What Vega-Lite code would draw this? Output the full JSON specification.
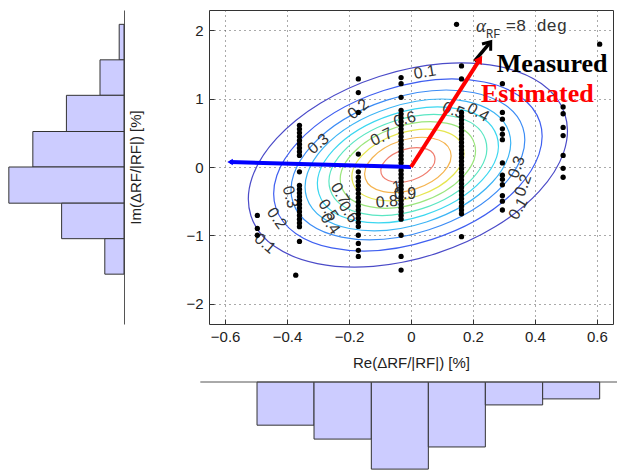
{
  "$schema": "https://vega.github.io/schema/vega-lite/v6.json",
  "padding": {"left": 5, "top": 9, "right": 0, "bottom": 0},
  "background": "white",
  "config": {
    "view": {"stroke": null},
    "font": "Liberation Sans",
    "axis": {"labelFont": "Liberation Sans", "titleFont": "Liberation Sans"}
  },
  "bounds": "flush",
  "columns": 2,
  "spacing": {"row": 58, "column": 85},
  "datasets": {
    "yhist": [
      {"y0": 1.57, "y1": 2.09, "count": 1},
      {"y0": 1.05, "y1": 1.57, "count": 5},
      {"y0": 0.52, "y1": 1.05, "count": 12},
      {"y0": 0.0, "y1": 0.52, "count": 19},
      {"y0": -0.53, "y1": 0.0, "count": 24},
      {"y0": -1.05, "y1": -0.53, "count": 13},
      {"y0": -1.57, "y1": -1.05, "count": 4}
    ],
    "xhist": [
      {"x0": -0.497, "x1": -0.313, "count": 11.5},
      {"x0": -0.313, "x1": -0.128, "count": 15.2},
      {"x0": -0.128, "x1": 0.056, "count": 23.2},
      {"x0": 0.056, "x1": 0.240, "count": 17.3},
      {"x0": 0.240, "x1": 0.425, "count": 6.1},
      {"x0": 0.425, "x1": 0.609, "count": 4.5}
    ],
    "contours": [
      {"level": 0.1, "x": -0.01, "y": 0.03},
      {"level": 0.2, "x": -0.01, "y": 0.03},
      {"level": 0.3, "x": -0.01, "y": 0.03},
      {"level": 0.4, "x": -0.01, "y": 0.03},
      {"level": 0.5, "x": -0.01, "y": 0.03},
      {"level": 0.6, "x": -0.01, "y": 0.03},
      {"level": 0.7, "x": -0.01, "y": 0.03},
      {"level": 0.8, "x": -0.01, "y": 0.03},
      {"level": 0.9, "x": -0.01, "y": 0.03},
      {"level": 1.0, "x": -0.01, "y": 0.03}
    ],
    "clabels": [
      {"x": 0.045, "y": 1.39, "label": "0.1", "rot": -10},
      {"x": -0.170, "y": 0.85, "label": "0.2", "rot": -40},
      {"x": -0.299, "y": 0.34, "label": "0.3", "rot": -40},
      {"x": -0.095, "y": 0.44, "label": "0.7", "rot": -25},
      {"x": -0.02, "y": 0.70, "label": "0.6", "rot": -15},
      {"x": 0.137, "y": 0.83, "label": "0.5", "rot": 20},
      {"x": 0.217, "y": 0.80, "label": "0.4", "rot": 30},
      {"x": 0.341, "y": 0.0, "label": "0.3", "rot": -70},
      {"x": 0.362, "y": -0.27, "label": "0.2", "rot": -70},
      {"x": 0.346, "y": -0.61, "label": "0.1", "rot": -60},
      {"x": -0.39, "y": -0.44, "label": "0.3", "rot": 75},
      {"x": -0.433, "y": -0.75, "label": "0.2", "rot": 55},
      {"x": -0.471, "y": -1.12, "label": "0.1", "rot": 40},
      {"x": -0.229, "y": -0.39, "label": "0.7", "rot": 60},
      {"x": -0.202, "y": -0.66, "label": "0.6", "rot": 55},
      {"x": -0.267, "y": -0.63, "label": "0.5", "rot": 55},
      {"x": -0.261, "y": -0.83, "label": "0.4", "rot": 55},
      {"x": -0.078, "y": -0.51, "label": "0.8", "rot": -5},
      {"x": -0.019, "y": -0.39, "label": "0.9", "rot": 0},
      {"x": -0.046, "y": -0.29, "label": "1", "rot": -10}
    ],
    "pts": [
      {"x": -0.496, "y": -0.71}, {"x": -0.496, "y": -0.90}, {"x": -0.496, "y": -1.00},
      {"x": -0.36, "y": 0.61}, {"x": -0.36, "y": 0.555}, {"x": -0.36, "y": 0.50}, {"x": -0.36, "y": 0.445}, {"x": -0.36, "y": 0.39}, {"x": -0.36, "y": 0.335}, {"x": -0.36, "y": 0.28}, {"x": -0.36, "y": 0.225}, {"x": -0.36, "y": 0.17}, {"x": -0.36, "y": -0.07}, {"x": -0.36, "y": -0.27}, {"x": -0.36, "y": -0.325}, {"x": -0.36, "y": -0.38}, {"x": -0.36, "y": -0.435}, {"x": -0.36, "y": -0.49}, {"x": -0.36, "y": -0.545}, {"x": -0.36, "y": -0.60}, {"x": -0.36, "y": -0.655}, {"x": -0.36, "y": -0.71}, {"x": -0.36, "y": -0.765}, {"x": -0.36, "y": -0.82}, {"x": -0.36, "y": -0.875}, {"x": -0.36, "y": -1.09}, {"x": -0.372, "y": -1.585},
      {"x": -0.17, "y": 1.29}, {"x": -0.17, "y": 1.09}, {"x": -0.17, "y": 0.80}, {"x": -0.17, "y": 0.19}, {"x": -0.17, "y": -0.07}, {"x": -0.17, "y": -0.15}, {"x": -0.17, "y": -0.21}, {"x": -0.17, "y": -0.27}, {"x": -0.17, "y": -0.33}, {"x": -0.17, "y": -0.39}, {"x": -0.17, "y": -0.45}, {"x": -0.17, "y": -0.51}, {"x": -0.17, "y": -0.57}, {"x": -0.17, "y": -0.63}, {"x": -0.17, "y": -0.69}, {"x": -0.17, "y": -0.75}, {"x": -0.17, "y": -0.81}, {"x": -0.17, "y": -0.87}, {"x": -0.17, "y": -1.0}, {"x": -0.17, "y": -1.12}, {"x": -0.17, "y": -1.22}, {"x": -0.17, "y": -1.31},
      {"x": -0.032, "y": 1.31}, {"x": -0.032, "y": 1.22}, {"x": -0.032, "y": 1.02}, {"x": -0.032, "y": 0.83}, {"x": -0.032, "y": 0.775}, {"x": -0.032, "y": 0.72}, {"x": -0.032, "y": 0.665}, {"x": -0.032, "y": 0.61}, {"x": -0.032, "y": 0.555}, {"x": -0.032, "y": 0.50}, {"x": -0.032, "y": 0.445}, {"x": -0.032, "y": 0.39}, {"x": -0.032, "y": 0.335}, {"x": -0.032, "y": 0.28}, {"x": -0.032, "y": 0.225}, {"x": -0.032, "y": 0.17}, {"x": -0.032, "y": 0.115}, {"x": -0.032, "y": 0.06}, {"x": -0.032, "y": 0.005}, {"x": -0.032, "y": -0.05}, {"x": -0.032, "y": -0.105}, {"x": -0.032, "y": -0.16}, {"x": -0.032, "y": -0.215}, {"x": -0.032, "y": -0.27}, {"x": -0.032, "y": -0.325}, {"x": -0.032, "y": -0.38}, {"x": -0.032, "y": -0.435}, {"x": -0.032, "y": -0.49}, {"x": -0.032, "y": -0.545}, {"x": -0.032, "y": -0.60}, {"x": -0.032, "y": -0.655}, {"x": -0.032, "y": -0.71}, {"x": -0.032, "y": -0.765}, {"x": -0.032, "y": -1.0}, {"x": -0.032, "y": -1.31}, {"x": -0.032, "y": -1.51},
      {"x": 0.163, "y": 1.48}, {"x": 0.163, "y": 1.29}, {"x": 0.163, "y": 0.80}, {"x": 0.163, "y": 0.745}, {"x": 0.163, "y": 0.69}, {"x": 0.163, "y": 0.635}, {"x": 0.163, "y": 0.58}, {"x": 0.163, "y": 0.525}, {"x": 0.163, "y": 0.47}, {"x": 0.163, "y": 0.415}, {"x": 0.163, "y": 0.36}, {"x": 0.163, "y": 0.305}, {"x": 0.163, "y": 0.25}, {"x": 0.163, "y": 0.195}, {"x": 0.163, "y": 0.14}, {"x": 0.163, "y": 0.085}, {"x": 0.163, "y": 0.03}, {"x": 0.163, "y": -0.025}, {"x": 0.163, "y": -0.08}, {"x": 0.163, "y": -0.135}, {"x": 0.163, "y": -0.19}, {"x": 0.163, "y": -0.245}, {"x": 0.163, "y": -0.30}, {"x": 0.163, "y": -0.355}, {"x": 0.163, "y": -0.41}, {"x": 0.163, "y": -0.465}, {"x": 0.163, "y": -0.52}, {"x": 0.163, "y": -0.575}, {"x": 0.163, "y": -0.63}, {"x": 0.163, "y": -0.685}, {"x": 0.163, "y": -1.02},
      {"x": 0.295, "y": 1.22}, {"x": 0.295, "y": 0.80}, {"x": 0.295, "y": 0.70}, {"x": 0.295, "y": 0.56}, {"x": 0.295, "y": 0.48}, {"x": 0.295, "y": 0.40}, {"x": 0.295, "y": 0.06}, {"x": 0.295, "y": -0.12}, {"x": 0.295, "y": -0.18}, {"x": 0.295, "y": -0.26}, {"x": 0.295, "y": -0.42}, {"x": 0.295, "y": -0.50}, {"x": 0.295, "y": -0.63},
      {"x": 0.491, "y": 0.88}, {"x": 0.491, "y": 0.78}, {"x": 0.491, "y": 0.58}, {"x": 0.491, "y": 0.46}, {"x": 0.491, "y": 0.17}, {"x": 0.491, "y": -0.02}, {"x": 0.491, "y": -0.15},
      {"x": 0.147, "y": 2.09}, {"x": 0.609, "y": 1.80}
    ],
    "arrows": [
      {"kind": "blue", "x": 0, "y": 0, "x2": -0.584, "y2": 0.073},
      {"kind": "meas", "x": 0.205, "y": 1.55, "x2": 0.253, "y2": 1.81},
      {"kind": "est", "x": 0, "y": 0, "x2": 0.2226, "y2": 1.581}
    ],
    "texts": [
      {"kind": "alpha", "x": 0.21, "y": 2.07, "t": "α"},
      {"kind": "sub", "x": 0.242, "y": 1.95, "t": "RF"},
      {"kind": "deg", "x": 0.306, "y": 2.07, "t": "=8 deg"},
      {"kind": "meas", "x": 0.277, "y": 1.51, "t": "Measured"},
      {"kind": "est", "x": 0.226, "y": 1.07, "t": "Estimated"}
    ]
  },
  "concat": [
    {
      "width": 119,
      "height": 314,
      "data": {"name": "yhist"},
      "mark": {"type": "bar", "fill": "#ccccff", "stroke": "#333333", "strokeWidth": 1, "opacity": 1},
      "encoding": {
        "y": {"field": "y0", "type": "quantitative", "scale": {"domain": [-2.3, 2.3], "nice": false, "zero": false},
              "axis": {"orient": "right", "labels": false, "ticks": false, "title": null, "grid": false, "domainColor": "#555555"}},
        "y2": {"field": "y1"},
        "x": {"field": "count", "type": "quantitative", "scale": {"domain": [0, 24.8], "reverse": true, "nice": false}, "axis": null},
        "x2": {"datum": 0}
      }
    },
    {
      "width": 404,
      "height": 314,
      "view": {"stroke": "#333333", "strokeWidth": 1},
      "layer": [
        {
          "data": {"name": "contours"},
          "mark": {"type": "point", "filled": false, "opacity": 1, "strokeWidth": 1.2, "angle": -18,
                   "shape": "M1,0 C1,0.3113 0.5523,0.5636 0,0.5636 C-0.5523,0.5636 -1,0.3113 -1,0 C-1,-0.3113 -0.5523,-0.5636 0,-0.5636 C0.5523,-0.5636 1,-0.3113 1,0 Z"},
          "encoding": {
            "x": {"field": "x", "type": "quantitative", "scale": {"domain": [-0.652, 0.652], "nice": false, "zero": false},
                  "axis": {"values": [-0.6, -0.4, -0.2, 0, 0.2, 0.4, 0.6], "format": "~g", "title": "Re(ΔRF/|RF|) [%]",
                           "grid": true, "gridDash": [1, 4], "gridColor": "#444444", "gridOpacity": 0.9, "domain": false,
                           "tickSize": -5, "tickColor": "#333333", "labelFontSize": 15, "labelColor": "#222222", "labelPadding": 10,
                           "titleFontSize": 15, "titleFontWeight": "normal", "titleColor": "#222222", "titlePadding": 11}},
            "y": {"field": "y", "type": "quantitative", "scale": {"domain": [-2.3, 2.3], "nice": false, "zero": false},
                  "axis": {"values": [-2, -1.5, -1, -0.5, 0, 0.5, 1, 1.5, 2], "format": "~g", "title": "Im(ΔRF/|RF|) [%]",
                           "grid": true, "gridDash": [1, 4], "gridColor": "#444444", "gridOpacity": 0.9, "domain": false,
                           "tickSize": -5, "tickColor": "#333333", "labelFontSize": 15, "labelColor": "#222222", "labelPadding": 11,
                           "titleFontSize": 15, "titleFontWeight": "normal", "titleColor": "#222222", "titlePadding": 42}},
            "size": {"field": "level", "type": "quantitative", "scale": {"type": "log", "domain": [0.1, 1], "range": [108900, 3150]}, "legend": null},
            "stroke": {"field": "level", "type": "ordinal", "legend": null,
                       "scale": {"domain": [0.1, 0.2, 0.3, 0.4, 0.5, 0.6, 0.7, 0.8, 0.9, 1.0],
                                 "range": ["#4b4bc8", "#3f5ff0", "#3c8cf5", "#3cb4f5", "#3cd7f0", "#5ae6c3", "#9be67d", "#e6e650", "#f5b450", "#f07d6e"]}}
          }
        },
        {
          "data": {"name": "clabels"},
          "mark": {"type": "text", "fontSize": 16, "font": "Liberation Sans", "color": "#333333", "align": "center", "baseline": "middle"},
          "encoding": {
            "x": {"field": "x", "type": "quantitative"},
            "y": {"field": "y", "type": "quantitative"},
            "text": {"field": "label"},
            "angle": {"field": "rot", "type": "quantitative", "scale": null}
          }
        },
        {
          "data": {"name": "pts"},
          "mark": {"type": "point", "filled": true, "color": "#000000", "size": 28, "opacity": 1},
          "encoding": {
            "x": {"field": "x", "type": "quantitative"},
            "y": {"field": "y", "type": "quantitative"}
          }
        },
        {
          "data": {"name": "arrows"},
          "transform": [{"filter": "datum.kind === 'blue'"}],
          "mark": {"type": "rule", "color": "#0000ff", "strokeWidth": 4},
          "encoding": {
            "x": {"field": "x", "type": "quantitative"}, "y": {"field": "y", "type": "quantitative"},
            "x2": {"field": "x2"}, "y2": {"field": "y2"}
          }
        },
        {
          "data": {"name": "arrows"},
          "transform": [{"filter": "datum.kind === 'meas'"}],
          "mark": {"type": "rule", "color": "#000000", "strokeWidth": 3.5},
          "encoding": {
            "x": {"field": "x", "type": "quantitative"}, "y": {"field": "y", "type": "quantitative"},
            "x2": {"field": "x2"}, "y2": {"field": "y2"}
          }
        },
        {
          "data": {"name": "arrows"},
          "transform": [{"filter": "datum.kind === 'meas'"}],
          "mark": {"type": "point", "filled": false, "color": "#000000", "strokeWidth": 3, "opacity": 1, "size": 120, "angle": 38,
                   "shape": "M-1,0.9 L0,-0.4 L1,0.9"},
          "encoding": {
            "x": {"field": "x2", "type": "quantitative"}, "y": {"field": "y2", "type": "quantitative"}
          }
        },
        {
          "data": {"name": "arrows"},
          "transform": [{"filter": "datum.kind === 'est'"}],
          "mark": {"type": "rule", "color": "#ff0000", "strokeWidth": 4},
          "encoding": {
            "x": {"field": "x", "type": "quantitative"}, "y": {"field": "y", "type": "quantitative"},
            "x2": {"field": "x2"}, "y2": {"field": "y2"}
          }
        },
        {
          "data": {"name": "arrows"},
          "transform": [{"filter": "datum.kind === 'est'"}],
          "mark": {"type": "point", "filled": true, "color": "#ff0000", "opacity": 1, "size": 90, "angle": 33, "shape": "triangle-up"},
          "encoding": {
            "x": {"field": "x2", "type": "quantitative"}, "y": {"field": "y2", "type": "quantitative"}
          }
        },
        {
          "data": {"name": "arrows"},
          "transform": [{"filter": "datum.kind === 'blue'"}],
          "mark": {"type": "point", "filled": true, "color": "#0000ff", "opacity": 1, "size": 40, "shape": "triangle-left"},
          "encoding": {
            "x": {"field": "x2", "type": "quantitative"}, "y": {"field": "y2", "type": "quantitative"}
          }
        },
        {
          "data": {"name": "texts"},
          "transform": [{"filter": "datum.kind === 'alpha'"}],
          "mark": {"type": "text", "font": "Liberation Serif", "fontStyle": "italic", "fontSize": 19, "color": "#333333", "align": "left", "baseline": "middle"},
          "encoding": {"x": {"field": "x", "type": "quantitative"}, "y": {"field": "y", "type": "quantitative"}, "text": {"field": "t"}}
        },
        {
          "data": {"name": "texts"},
          "transform": [{"filter": "datum.kind === 'sub'"}],
          "mark": {"type": "text", "font": "Liberation Mono", "fontSize": 12, "color": "#333333", "align": "left", "baseline": "middle"},
          "encoding": {"x": {"field": "x", "type": "quantitative"}, "y": {"field": "y", "type": "quantitative"}, "text": {"field": "t"}}
        },
        {
          "data": {"name": "texts"},
          "transform": [{"filter": "datum.kind === 'deg'"}],
          "mark": {"type": "text", "font": "Liberation Mono", "fontSize": 17, "color": "#333333", "align": "left", "baseline": "middle"},
          "encoding": {"x": {"field": "x", "type": "quantitative"}, "y": {"field": "y", "type": "quantitative"}, "text": {"field": "t"}}
        },
        {
          "data": {"name": "texts"},
          "transform": [{"filter": "datum.kind === 'meas'"}],
          "mark": {"type": "text", "font": "Liberation Serif", "fontWeight": "bold", "fontSize": 26, "color": "#000000", "align": "left", "baseline": "middle"},
          "encoding": {"x": {"field": "x", "type": "quantitative"}, "y": {"field": "y", "type": "quantitative"}, "text": {"field": "t"}}
        },
        {
          "data": {"name": "texts"},
          "transform": [{"filter": "datum.kind === 'est'"}],
          "mark": {"type": "text", "font": "Liberation Serif", "fontWeight": "bold", "fontSize": 26, "color": "#ff0000", "align": "left", "baseline": "middle"},
          "encoding": {"x": {"field": "x", "type": "quantitative"}, "y": {"field": "y", "type": "quantitative"}, "text": {"field": "t"}}
        }
      ]
    },
    {
      "width": 119,
      "height": 89,
      "data": {"values": []},
      "mark": {"type": "point", "opacity": 0},
      "encoding": {}
    },
    {
      "width": 404,
      "height": 89,
      "layer": [
        {
          "data": {"name": "xhist"},
          "mark": {"type": "bar", "fill": "#ccccff", "stroke": "#333333", "strokeWidth": 1, "opacity": 1},
          "encoding": {
            "x": {"field": "x0", "type": "quantitative", "scale": {"domain": [-0.652, 0.652], "nice": false, "zero": false}, "axis": null},
            "x2": {"field": "x1"},
            "y": {"field": "count", "type": "quantitative", "scale": {"domain": [0, 23.7], "reverse": true, "nice": false}, "axis": null},
            "y2": {"datum": 0}
          }
        },
        {
          "data": {"values": [{"a": -0.68, "b": 0.668, "c": 0}]},
          "mark": {"type": "rule", "color": "#555555", "strokeWidth": 1},
          "encoding": {
            "x": {"field": "a", "type": "quantitative"},
            "x2": {"field": "b"},
            "y": {"field": "c", "type": "quantitative"}
          }
        }
      ]
    }
  ]
}
